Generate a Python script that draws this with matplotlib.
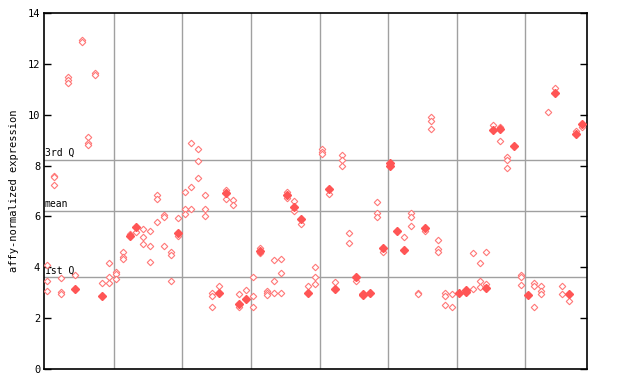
import matplotlib
matplotlib.use("Agg")
import matplotlib.pyplot as plt

# Expression values per sample (79 samples).
# hollow_vals: checkered (open) diamonds, solid_vals: filled diamonds
hollow_vals = [
    [4.08, 3.45, 3.05], [7.6, 7.55, 7.24], [3.58, 3.02, 2.96], [11.48, 11.35, 11.25],
    [3.68], [12.95, 12.85], [9.12, 8.87, 8.8], [11.65, 11.55],
    [3.37], [4.16, 3.63, 3.37], [3.81, 3.72, 3.55], [4.61, 4.4, 4.33],
    [5.3], [5.39], [5.49, 5.18, 4.92], [5.44, 4.82, 4.19],
    [6.83, 6.7, 5.78], [6.06, 5.96, 4.82], [4.61, 4.5, 3.45], [5.92, 5.22],
    [6.95, 6.28, 6.08], [8.87, 7.14, 6.28], [8.64, 8.17, 7.5], [6.83, 6.28, 6.0],
    [2.98, 2.88, 2.43], [3.26], [7.03, 6.67], [6.63, 6.43],
    [2.94, 2.45], [3.09], [3.63, 2.86, 2.43], [4.75, 4.55],
    [3.05, 2.97, 2.9], [4.27, 3.45, 2.98], [4.31, 3.76, 2.98], [6.95, 6.72],
    [6.59, 6.22], [5.69], [3.25], [4.0, 3.6, 3.36],
    [8.65, 8.55, 8.45], [6.89], [3.41], [8.42, 8.2, 8.0],
    [5.33, 4.94], [3.47], [], [],
    [6.55, 6.12, 5.97], [4.61], [], [],
    [5.18], [6.15, 5.96, 5.61], [3.0, 2.95], [5.41],
    [9.92, 9.75, 9.42], [5.06, 4.7, 4.61], [2.98, 2.88, 2.5], [2.94, 2.43],
    [], [], [4.55, 3.13], [4.16, 3.45, 3.24],
    [4.59, 3.33], [9.6], [9.53, 8.95], [8.35, 8.22, 7.89],
    [], [3.68, 3.6, 3.29], [], [3.37, 3.26, 2.43],
    [3.26, 3.08, 2.95], [10.09], [11.04], [3.26, 2.94],
    [2.66], [9.35], [9.5],
]
solid_vals = [
    [], [], [], [],
    [3.16], [], [], [],
    [2.88], [], [], [],
    [5.22], [5.6], [], [],
    [], [], [], [5.33],
    [], [], [], [],
    [], [3.0], [6.93], [],
    [2.55], [2.77], [], [4.63],
    [], [], [], [6.85],
    [6.36], [5.91], [3.0], [],
    [], [7.09], [3.16], [],
    [], [3.63], [2.96, 2.9], [3.0],
    [], [4.74], [8.12, 7.98], [5.44],
    [4.68], [], [], [5.54],
    [], [], [], [],
    [3.0], [3.1, 3.04], [], [],
    [3.2], [9.4], [9.45], [],
    [8.78], [], [2.92], [],
    [], [], [10.84], [],
    [2.96], [9.25], [9.63],
]

q3 = 8.21
mean_val = 6.2
q1 = 3.6
y_ticks = [0, 2, 4, 6, 8, 10, 12, 14]

red = "#ff5555"
mono = "DejaVu Sans Mono"

fig = plt.figure(figsize=(6.4, 3.84), dpi=100)
ax = fig.add_axes([44.3 / 640, 15 / 384, 543 / 640, 356 / 384])

# vertical separators every 10 samples
for gx in range(10, 80, 10):
    ax.axvline(gx + 0.68, color="#a0a0a0", lw=1.0, zorder=1)

# quartile / mean reference lines
for val, name in [(q3, "3rd Q"), (mean_val, "mean"), (q1, "1st Q")]:
    ax.axhline(val, color="#a0a0a0", lw=1.0, zorder=1)
    ax.text(0.62, val + 0.08, name, family=mono, fontsize=7, va="bottom", ha="left", zorder=3)

hx, hy, sx, sy = [], [], [], []
for i in range(len(hollow_vals)):
    for v in hollow_vals[i]:
        hx.append(i + 1)
        hy.append(v)
    for v in solid_vals[i]:
        sx.append(i + 1)
        sy.append(v)

ax.plot(hx, hy, linestyle="none", marker="D", markersize=3.3, markerfacecolor="white",
        markeredgecolor="#ff7777", markeredgewidth=0.8, zorder=4)
ax.plot(sx, sy, linestyle="none", marker="D", markersize=3.6, color=red, zorder=5)

ax.set_xlim(0.563, 79.71)
ax.set_ylim(0, 14)
ax.set_xticks([])
ax.set_yticks(y_ticks)
ax.set_yticklabels([str(t) for t in y_ticks], family=mono, fontsize=7.5)
ax.tick_params(axis="y", direction="in", length=5, width=1, right=True, pad=3)
for sp in ax.spines.values():
    sp.set_linewidth(1.2)

ax.set_ylabel("affy-normalized expression", family=mono, fontsize=7.5, labelpad=6)

fig.savefig("out.png", dpi=100)
